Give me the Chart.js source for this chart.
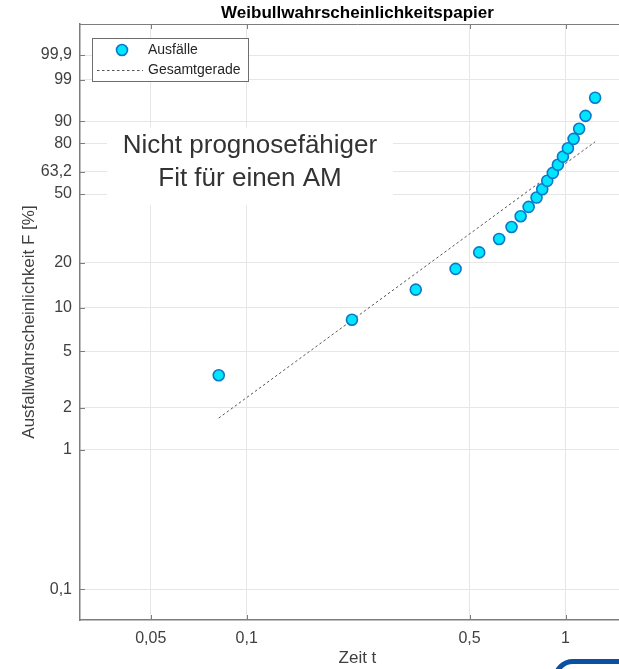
<!DOCTYPE html>
<html lang="de">
<head>
<meta charset="utf-8">
<title>Weibullwahrscheinlichkeitspapier</title>
<script src="https://cdn.jsdelivr.net/npm/chart.js@4.4.1/dist/chart.umd.min.js"></script>
<style>
  html, body { margin: 0; padding: 0; background: #fff; overflow: hidden; }
  #wrap { position: relative; width: 619px; height: 669px; overflow: hidden; }
  #chartWeibull { position: absolute; left: 0; top: 0; }
  #logo { position: absolute; left: 553px; top: 659px; width: 130px; height: 50px;
          border: 5px solid #0a52a1; border-radius: 20px; box-sizing: border-box; }
</style>
</head>
<body>
<div id="wrap">
  <canvas id="chartWeibull" width="642" height="669"></canvas>
  <div id="logo"></div>
</div>
<script>
// Zeit t und Ausfallwahrscheinlichkeit F [%]
const zeit = [0.0817, 0.2138, 0.339, 0.452, 0.536, 0.619, 0.677, 0.723, 0.766, 0.811,
              0.845, 0.876, 0.912, 0.946, 0.981, 1.017, 1.060, 1.103, 1.155, 1.238];
const ausfallPct = [3.4, 8.3, 13.3, 18.2, 23.2, 28.1, 33.1, 38.1, 42.9, 48.0,
                    52.8, 57.8, 62.6, 67.5, 72.4, 77.2, 82.2, 87.0, 92.0, 96.7];

// Gesamtgerade (Endpunkte)
const geradeZeit = [0.0817, 1.238];
const geradePct = [1.69, 80.7];

// Achsenbeschriftung
const xTicks = [0.05, 0.1, 0.5, 1];
const xTickLabels = ['0,05', '0,1', '0,5', '1'];
const yTickPct = [0.1, 1, 2, 5, 10, 20, 50, 63.2, 80, 90, 99, 99.9];
const yTickLabels = ['0,1', '1', '2', '5', '10', '20', '50', '63,2', '80', '90', '99', '99,9'];

// Weibull-Transformation der Ordinate: ln(-ln(1-F))
const weib = p => Math.log(-Math.log(1 - p / 100));

const AXIS_GRAY = '#7d7d7d';
const TEXT_GRAY = '#404040';

Chart.defaults.font.family = "'Liberation Sans', Arial, sans-serif";

// Rahmen, innenliegende Ticks, Hinweistext und Legende wie im MATLAB-Plot
const paperDecor = {
  id: 'paperDecor',
  beforeDatasetsDraw(chart) {
    const { ctx, chartArea: a, scales: { x, y } } = chart;
    ctx.save();
    ctx.strokeStyle = AXIS_GRAY;
    ctx.lineWidth = 1;
    ctx.beginPath();
    ctx.moveTo(a.left, a.top + 0.5);
    ctx.lineTo(a.right, a.top + 0.5);
    yTickPct.forEach(p => {
      const py = Math.round(y.getPixelForValue(weib(p))) + 0.5;
      ctx.moveTo(a.left, py);
      ctx.lineTo(a.left + 5, py);
    });
    xTicks.forEach(v => {
      const px = Math.round(x.getPixelForValue(v)) + 0.5;
      ctx.moveTo(px, a.bottom);
      ctx.lineTo(px, a.bottom - 5);
      ctx.moveTo(px, a.top);
      ctx.lineTo(px, a.top + 5);
    });
    ctx.stroke();

    // Hinweis "Nicht prognosefähiger Fit für einen AM"
    const cx = x.getPixelForValue(0.1024);
    const cy = y.getPixelForValue(weib(63.2));
    ctx.fillStyle = '#fff';
    ctx.fillRect(cx - 143, cy - 44, 286, 77);
    ctx.fillStyle = '#333';
    ctx.font = "26px 'Liberation Sans', Arial, sans-serif";
    ctx.textAlign = 'center';
    ctx.textBaseline = 'middle';
    ctx.fillText('Nicht prognosefähiger', cx, cy - 26);
    ctx.fillText('Fit für einen AM', cx, cy + 7);
    ctx.restore();
  },
  afterDraw(chart) {
    const { ctx, chartArea: a } = chart;
    const bx = a.left + 12, by = a.top + 14;
    ctx.save();
    ctx.fillStyle = '#fff';
    ctx.fillRect(bx, by, 156, 43);
    ctx.strokeStyle = '#6e6e6e';
    ctx.lineWidth = 1;
    ctx.strokeRect(bx + 0.5, by + 0.5, 156, 43);

    ctx.beginPath();
    ctx.arc(bx + 30, by + 12, 5.5, 0, Math.PI * 2);
    ctx.fillStyle = '#00e6ff';
    ctx.fill();
    ctx.lineWidth = 1.6;
    ctx.strokeStyle = '#0a78c8';
    ctx.stroke();

    ctx.beginPath();
    ctx.setLineDash([2.5, 2.5]);
    ctx.lineWidth = 1;
    ctx.strokeStyle = '#555';
    ctx.moveTo(bx + 5, by + 32.5);
    ctx.lineTo(bx + 51, by + 32.5);
    ctx.stroke();
    ctx.setLineDash([]);

    ctx.fillStyle = '#262626';
    ctx.font = "14px 'Liberation Sans', Arial, sans-serif";
    ctx.textAlign = 'left';
    ctx.textBaseline = 'middle';
    ctx.fillText('Ausfälle', bx + 56, by + 12);
    ctx.fillText('Gesamtgerade', bx + 56, by + 32);
    ctx.restore();
  }
};

new Chart(document.getElementById('chartWeibull'), {
  type: 'scatter',
  data: {
    datasets: [
      {
        label: 'Ausfälle',
        data: zeit.map((t, i) => ({ x: t, y: weib(ausfallPct[i]) })),
        backgroundColor: '#00e6ff',
        borderColor: '#0a78c8',
        borderWidth: 1.6,
        pointRadius: 5.5
      },
      {
        label: 'Gesamtgerade',
        data: geradeZeit.map((t, i) => ({ x: t, y: weib(geradePct[i]) })),
        showLine: true,
        borderColor: '#555',
        borderWidth: 1,
        borderDash: [2.5, 2.5],
        pointRadius: 0
      }
    ]
  },
  options: {
    responsive: false,
    animation: false,
    devicePixelRatio: 1,
    events: [],
    layout: { padding: 0 },
    plugins: {
      legend: { display: false },
      tooltip: { enabled: false },
      title: {
        display: true,
        fullSize: false,
        text: 'Weibullwahrscheinlichkeitspapier',
        color: '#000',
        font: { size: 17, weight: 'bold' },
        padding: { top: 3.5, bottom: 0.1 }
      }
    },
    scales: {
      x: {
        type: 'logarithmic',
        min: 0.03,
        max: 1.65,
        afterBuildTicks: s => { s.ticks = xTicks.map(v => ({ value: v })); },
        afterFit: s => { s.height = 49; },
        ticks: {
          callback: (v, i) => xTickLabels[i],
          color: TEXT_GRAY,
          font: { size: 16 },
          padding: 9,
          autoSkip: false,
          maxRotation: 0
        },
        grid: { color: '#e6e6e6', drawTicks: false },
        border: { color: AXIS_GRAY, width: 1.5 },
        title: { display: true, text: 'Zeit t', color: TEXT_GRAY, font: { size: 17 }, padding: 0 }
      },
      y: {
        type: 'linear',
        min: -7.412,
        max: 2.446,
        afterBuildTicks: s => { s.ticks = yTickPct.map(p => ({ value: weib(p) })); },
        afterFit: s => { s.width = 80; },
        ticks: {
          callback: (v, i) => yTickLabels[i],
          color: TEXT_GRAY,
          font: { size: 16 },
          padding: 8,
          autoSkip: false
        },
        grid: { color: '#e6e6e6', drawTicks: false },
        border: { color: AXIS_GRAY, width: 1.5 },
        title: {
          display: true,
          text: 'Ausfallwahrscheinlichkeit F [%]',
          color: TEXT_GRAY,
          font: { size: 17 },
          padding: { top: 19, bottom: 0 }
        }
      }
    }
  },
  plugins: [paperDecor]
});
</script>
</body>
</html>
